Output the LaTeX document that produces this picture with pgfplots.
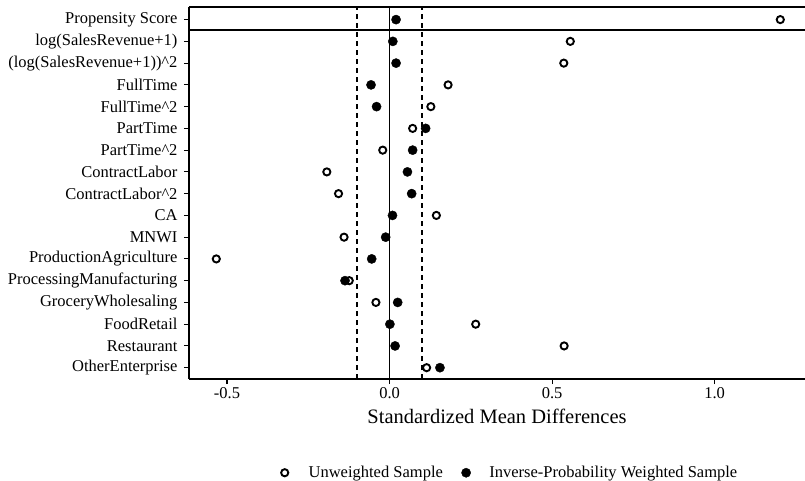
\documentclass[border=0pt]{standalone}
\usepackage{fontspec}
\setmainfont{Liberation Serif}
\usepackage{pgfplots}
\pgfplotsset{compat=1.18}

% standardized mean differences, unweighted vs IPW
\pgfplotstableread{
y   unw     ipw
1   0.114   0.155
2   0.537   0.017
3   0.265   0.001
4   -0.042  0.025
5   -0.124  -0.137
6   -0.533  -0.055
7   -0.140  -0.012
8   0.144   0.009
9   -0.157  0.068
10  -0.193  0.055
11  -0.021  0.071
12  0.071   0.111
13  0.127   -0.040
14  0.180   -0.057
15  0.536   0.020
16  0.556   0.010
17  1.202   0.020
}\smd

\begin{document}
\begin{tikzpicture}
\path[use as bounding box] (-189bp,-102bp) rectangle (616bp,379bp);
\begin{axis}[
    at={(0,0)}, anchor=south west,
    scale only axis, width=616bp, height=372bp,
    xmin=-0.617, xmax=1.278, ymin=0.48, ymax=17.58,
    axis x line*=bottom, axis y line*=left,
    axis line style={line width=1.1bp, black},
    tick align=outside, major tick length=5bp,
    tick style={line width=1.1bp, black},
    xtick={-0.5,0,0.5,1}, xticklabels={-0.5,0.0,0.5,1.0},
    ytick={1,...,17},
    yticklabels={OtherEnterprise, Restaurant, FoodRetail, GroceryWholesaling,
        ProcessingManufacturing, ProductionAgriculture, MNWI, CA,
        ContractLabor\textasciicircum 2, ContractLabor, PartTime\textasciicircum 2,
        PartTime, FullTime\textasciicircum 2, FullTime,
        (log(SalesRevenue+1))\textasciicircum 2, log(SalesRevenue+1), Propensity Score},
    ticklabel style={font=\fontsize{16.5bp}{19bp}\selectfont},
    yticklabel style={xshift=-3bp},
    /pgf/number format/assume math mode=true,
    xlabel={Standardized Mean Differences},
    xlabel style={font=\fontsize{20.5bp}{24bp}\selectfont, yshift=-3bp},
    legend columns=2,
    legend style={draw=none, fill=none, at={(axis description cs:0.5195,-0.252)},
        anchor=center, font=\fontsize{16.5bp}{19bp}\selectfont,
        /tikz/every even column/.append style={column sep=16bp}},
    legend image code/.code={\path (0bp,0bp) (26bp,0bp); \draw[#1] plot coordinates {(5bp,0bp)};},
    clip=false,
]
\draw[line width=1.3bp] (axis cs:0,0.48) -- (axis cs:0,17.58);
\draw[line width=1.2bp, dash pattern=on 5bp off 4bp] (axis cs:-0.1,0.48) -- (axis cs:-0.1,17.58);
\draw[line width=1.2bp, dash pattern=on 5bp off 4bp] (axis cs:0.1,0.48) -- (axis cs:0.1,17.58);
\draw[line width=1.1bp] (axis cs:-0.617,17.58) -- (axis cs:1.278,17.58);
\draw[line width=2bp] (axis cs:-0.617,16.5) -- (axis cs:1.278,16.5);

\addplot[only marks, mark=o, mark size=3.6bp, line width=1.9bp, black]
    table[x=unw, y=y] {\smd};
\addlegendentry{Unweighted Sample}
\addplot[only marks, mark=*, mark size=4.6bp, black]
    table[x=ipw, y=y] {\smd};
\addlegendentry{Inverse-Probability Weighted Sample}
\end{axis}
\end{tikzpicture}
\end{document}
